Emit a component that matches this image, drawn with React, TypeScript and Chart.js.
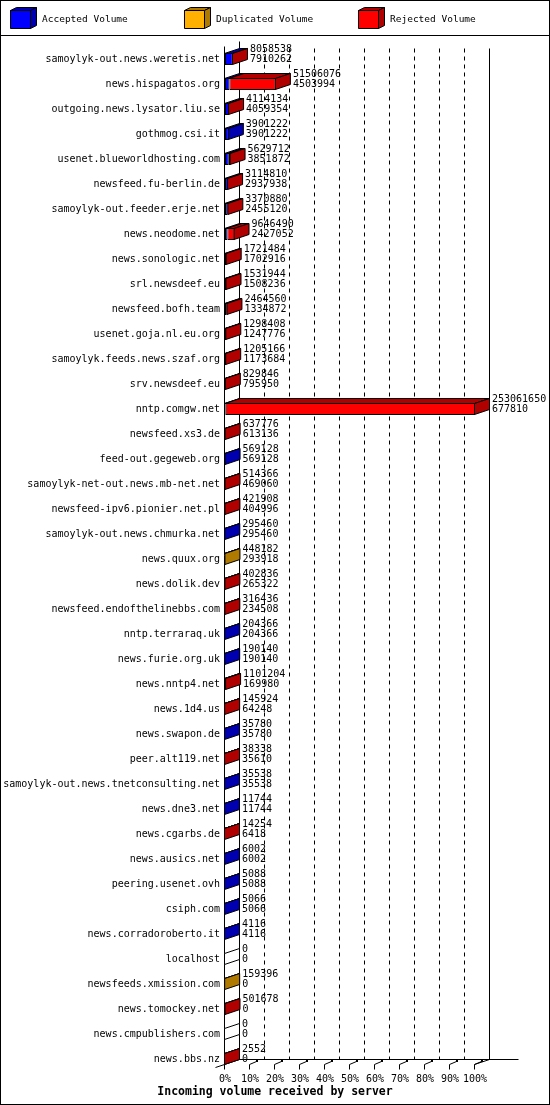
import React, { useEffect, useRef } from 'react';
import { Chart, registerables } from 'chart.js';

Chart.register(...registerables);

const servers = [
  'samoylyk-out.news.weretis.net',
  'news.hispagatos.org',
  'outgoing.news.lysator.liu.se',
  'gothmog.csi.it',
  'usenet.blueworldhosting.com',
  'newsfeed.fu-berlin.de',
  'samoylyk-out.feeder.erje.net',
  'news.neodome.net',
  'news.sonologic.net',
  'srl.newsdeef.eu',
  'newsfeed.bofh.team',
  'usenet.goja.nl.eu.org',
  'samoylyk.feeds.news.szaf.org',
  'srv.newsdeef.eu',
  'nntp.comgw.net',
  'newsfeed.xs3.de',
  'feed-out.gegeweb.org',
  'samoylyk-net-out.news.mb-net.net',
  'newsfeed-ipv6.pionier.net.pl',
  'samoylyk-out.news.chmurka.net',
  'news.quux.org',
  'news.dolik.dev',
  'newsfeed.endofthelinebbs.com',
  'nntp.terraraq.uk',
  'news.furie.org.uk',
  'news.nntp4.net',
  'news.1d4.us',
  'news.swapon.de',
  'peer.alt119.net',
  'samoylyk-out.news.tnetconsulting.net',
  'news.dne3.net',
  'news.cgarbs.de',
  'news.ausics.net',
  'peering.usenet.ovh',
  'csiph.com',
  'news.corradoroberto.it',
  'localhost',
  'newsfeeds.xmission.com',
  'news.tomockey.net',
  'news.cmpublishers.com',
  'news.bbs.nz',
];

const totalVolume = [
  8058538, 51506076, 4114134, 3901222, 5629712, 3114810, 3370880, 9646490,
  1721484, 1531944, 2464560, 1298408, 1205166, 829846, 253061650, 637776,
  569128, 514366, 421908, 295460, 448182, 402836, 316436, 204366, 190140,
  1101204, 145924, 35780, 38338, 35538, 11744, 14254, 6002, 5088, 5066, 4116,
  0, 159396, 501678, 0, 2552,
];

const acceptedVolume = [
  7910262, 4503994, 4059354, 3901222, 3851872, 2937938, 2455120, 2427052,
  1702916, 1508236, 1334872, 1247776, 1173684, 795950, 677810, 613136,
  569128, 469060, 404996, 295460, 293918, 265322, 234508, 204366, 190140,
  169980, 64248, 35780, 35610, 35538, 11744, 6418, 6002, 5088, 5066, 4116,
  0, 0, 0, 0, 0,
];

const duplicatedVolume = [
  0, 0, 0, 0, 0, 0, 0, 0, 0, 0, 0, 0, 0, 0, 0, 0, 0, 0, 0, 0, 154264, 0, 0,
  0, 0, 0, 0, 0, 0, 0, 0, 0, 0, 0, 0, 0, 0, 159396, 0, 0, 0,
];

const rejectedVolume = [
  148276, 47002082, 54780, 0, 1777840, 176872, 915760, 7219438, 18568, 23708,
  1129688, 50632, 31482, 33896, 252383840, 24640, 0, 45306, 16912, 0, 0,
  137514, 81928, 0, 0, 931224, 81676, 0, 2728, 0, 0, 7836, 0, 0, 0, 0, 0, 0,
  501678, 0, 2552,
];

const seriesLabels = ['Accepted Volume', 'Duplicated Volume', 'Rejected Volume'];
const frontColors = ['#0000ff', '#ffb000', '#ff0000'];
const sideColors = ['#0000b0', '#b07900', '#b00000'];
const percentTicks = [0, 10, 20, 30, 40, 50, 60, 70, 80, 90, 100];
const axisTitle = 'Incoming volume received by server';

const FONT = '"DejaVu Sans Mono", "Liberation Mono", monospace';
const MAX = Math.max(...totalVolume);
const DX = 15;
const DY = 5;
const HALF = 6;
const series = [acceptedVolume, duplicatedVolume, rejectedVolume];

function line(ctx: CanvasRenderingContext2D, x1: number, y1: number, x2: number, y2: number) {
  ctx.beginPath();
  ctx.moveTo(x1, y1);
  ctx.lineTo(x2, y2);
  ctx.stroke();
}

function poly(ctx: CanvasRenderingContext2D, pts: number[][], fill: string) {
  ctx.beginPath();
  ctx.moveTo(pts[0][0], pts[0][1]);
  for (let i = 1; i < pts.length; i++) ctx.lineTo(pts[i][0], pts[i][1]);
  ctx.closePath();
  ctx.fillStyle = fill;
  ctx.fill();
  ctx.stroke();
}

const inn3d = {
  id: 'inn3d',
  beforeDraw(chart: any) {
    const { ctx, width, height } = chart;
    ctx.save();
    ctx.fillStyle = '#fff';
    ctx.fillRect(0, 0, width, height);
    ctx.restore();
  },
  beforeDatasetsDraw(chart: any) {
    const ctx: CanvasRenderingContext2D = chart.ctx;
    const xs = chart.scales.x;
    const ys = chart.scales.y;
    const n = servers.length;
    const L = Math.round(xs.getPixelForValue(0)) - 0.5;
    const R = Math.round(xs.getPixelForValue(MAX)) - 0.5;
    const firstTop = Math.round(ys.getPixelForValue(0)) - HALF - 6.5;
    const floorF = Math.round(ys.getPixelForValue(n - 1)) + HALF - 0.5;
    const floorB = floorF - DY;
    ctx.save();
    ctx.strokeStyle = '#000';
    ctx.lineWidth = 1;
    ctx.setLineDash([4, 4]);
    for (let k = 1; k < percentTicks.length - 1; k++) {
      const x = Math.round(xs.getPixelForValue((percentTicks[k] / 100) * MAX)) - 0.5 + DX;
      line(ctx, x, firstTop + 2, x, floorB);
    }
    ctx.setLineDash([]);
    line(ctx, R + DX, firstTop + 2, R + DX, floorB);
    line(ctx, L + DX, firstTop - DY, L + DX, floorB);
    line(ctx, L, firstTop, L, floorF);
    line(ctx, L + DX, floorB, R + DX + 29, floorB);
    line(ctx, L - 9, floorF + 3, L + DX, floorB);
    line(ctx, R, floorF, R + DX, floorB);
    for (let k = 0; k < percentTicks.length; k++) {
      const x = Math.round(xs.getPixelForValue((percentTicks[k] / 100) * MAX)) - 0.5;
      line(ctx, x, floorF, x, floorF + 5);
      if (k > 0) {
        line(ctx, x, floorF, x + 7, floorF - 3);
        ctx.fillStyle = '#000';
        ctx.fillRect(x + 6.5, floorF - 4.5, 2, 2);
      }
    }
    ctx.restore();
  },
  afterDatasetsDraw(chart: any) {
    const ctx: CanvasRenderingContext2D = chart.ctx;
    const xs = chart.scales.x;
    const ys = chart.scales.y;
    const L = Math.round(xs.getPixelForValue(0));
    ctx.save();
    ctx.strokeStyle = '#000';
    ctx.lineWidth = 1;
    for (let j = 0; j < servers.length; j++) {
      const yc = Math.round(ys.getPixelForValue(j));
      const top = yc - HALF + 0.5;
      const bottom = yc + HALF - 0.5;
      let lastIdx = -1;
      let xe = L;
      for (let i = 0; i < series.length; i++) {
        const v = series[i][j];
        if (!v) continue;
        const el = chart.getDatasetMeta(i).data[j];
        const xs0 = el.base - 0.5;
        const xe0 = el.x - 0.5;
        poly(ctx, [[xs0, top], [xe0, top], [xe0 + DX, top - DY], [xs0 + DX, top - DY]], sideColors[i]);
        lastIdx = i;
        xe = el.x;
      }
      const sx = xe - 0.5;
      poly(
        ctx,
        [[sx, top], [sx + DX, top - DY], [sx + DX, bottom - DY], [sx, bottom]],
        lastIdx >= 0 ? sideColors[lastIdx] : '#ffffff'
      );
      ctx.fillStyle = '#000';
      ctx.font = `10px ${FONT}`;
      ctx.textAlign = 'left';
      ctx.textBaseline = 'middle';
      ctx.fillText(String(totalVolume[j]), xe + DX + 2, yc - 10);
      ctx.fillText(String(acceptedVolume[j]), xe + DX + 2, yc);
    }
    ctx.restore();
  },
  afterDraw(chart: any) {
    const ctx: CanvasRenderingContext2D = chart.ctx;
    const { width, height } = chart;
    ctx.save();
    ctx.strokeStyle = '#000';
    ctx.lineWidth = 1;
    // legend
    for (let i = 0; i < seriesLabels.length; i++) {
      const x0 = 10.5 + 174 * i;
      const y0 = 10.5;
      const w = 20;
      const h = 18;
      poly(ctx, [[x0, y0], [x0 + w, y0], [x0 + w + 6, y0 - 3], [x0 + 6, y0 - 3]], sideColors[i]);
      poly(ctx, [[x0 + w, y0], [x0 + w + 6, y0 - 3], [x0 + w + 6, y0 + h - 3], [x0 + w, y0 + h]], sideColors[i]);
      poly(ctx, [[x0, y0], [x0 + w, y0], [x0 + w, y0 + h], [x0, y0 + h]], frontColors[i]);
      ctx.fillStyle = '#000';
      ctx.font = `9.5px ${FONT}`;
      ctx.textAlign = 'left';
      ctx.textBaseline = 'middle';
      ctx.fillText(chart.data.datasets[i].label, x0 + 31.5, 20);
    }
    line(ctx, 0, 35.5, width, 35.5);
    // title
    ctx.fillStyle = '#000';
    ctx.font = `bold 11.5px ${FONT}`;
    ctx.textAlign = 'center';
    ctx.textBaseline = 'middle';
    ctx.fillText(axisTitle, width / 2, 1092);
    ctx.strokeRect(0.5, 0.5, width - 1, height - 1);
    ctx.restore();
  },
};

export default function App() {
  const ref = useRef<HTMLCanvasElement>(null);
  useEffect(() => {
    document.body.style.margin = '0';
    const nz = (arr: number[]) => arr.map((v) => (v ? v : null));
    const chart = new Chart(ref.current as HTMLCanvasElement, {
      type: 'bar',
      data: {
        labels: servers,
        datasets: series.map((arr, i) => ({
          label: seriesLabels[i],
          data: nz(arr),
          backgroundColor: frontColors[i],
          borderColor: '#000',
          borderWidth: 1,
          borderSkipped: false,
          inflateAmount: 0,
          barThickness: 12,
        })) as any,
      },
      options: {
        indexAxis: 'y',
        responsive: false,
        animation: false,
        devicePixelRatio: 1,
        layout: { padding: { top: 46.5, right: 75, bottom: 0, left: 0 } },
        plugins: { legend: { display: false }, tooltip: { enabled: false }, title: { display: false } },
        scales: {
          x: {
            type: 'linear',
            stacked: true,
            min: 0,
            max: MAX,
            position: 'bottom',
            grid: { display: false, drawTicks: false },
            border: { display: false },
            ticks: {
              autoSkip: false,
              maxRotation: 0,
              minRotation: 0,
              padding: 2,
              color: '#000',
              font: { size: 10, family: FONT },
              callback: (v: any) => Math.round((Number(v) / MAX) * 100) + '%',
            },
            afterBuildTicks: (s: any) => {
              s.ticks = percentTicks.map((p) => ({ value: (p / 100) * MAX }));
            },
            afterFit: (s: any) => {
              s.height = 33.5;
            },
          },
          y: {
            type: 'category',
            stacked: true,
            grid: { display: false, drawTicks: false },
            border: { display: false },
            ticks: {
              autoSkip: false,
              padding: 5,
              color: '#000',
              font: { size: 10, family: FONT },
            },
            afterFit: (s: any) => {
              s.width = 225;
            },
          },
        },
      } as any,
      plugins: [inn3d],
    });
    return () => chart.destroy();
  }, []);
  return (
    <canvas
      ref={ref}
      width={550}
      height={1105}
      style={{ display: 'block', width: 550, height: 1105 }}
    />
  );
}
